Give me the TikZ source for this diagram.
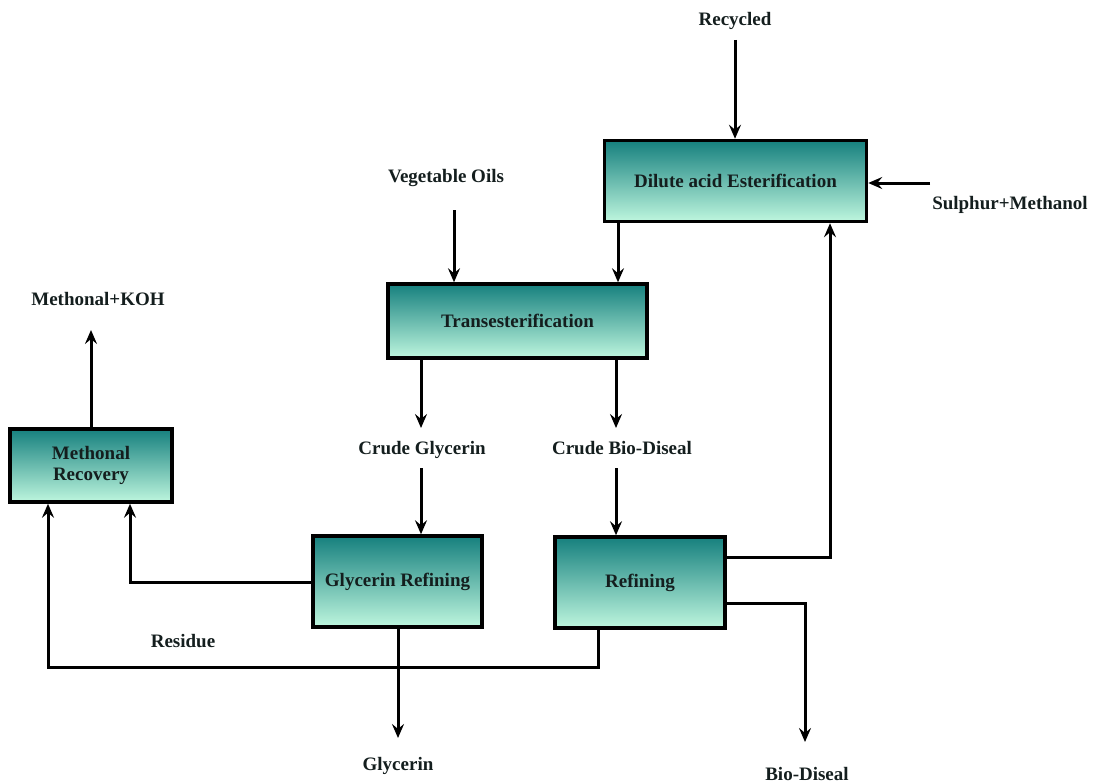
\documentclass[tikz,border=0pt]{standalone}
\usepackage{fontspec}
\setmainfont{Liberation Serif}
\usetikzlibrary{arrows.meta}
\definecolor{tealtop}{RGB}{22,128,126}
\definecolor{mintbot}{RGB}{190,246,222}
\definecolor{txt}{RGB}{20,30,30}
\begin{document}
\begin{tikzpicture}[x=1pt,y=-1pt,
  proc/.style={draw=black,line width=3.5pt,top color=tealtop,bottom color=mintbot,
    inner sep=0pt,font=\fontsize{19}{21}\selectfont\bfseries,text=txt,align=center},
  lbl/.style={font=\fontsize{19}{21}\selectfont\bfseries,text=txt,inner sep=0pt},
  flow/.style={line width=3pt,-{Stealth[length=14pt,width=12pt,inset=5pt]}},
  link/.style={line width=3pt}]
\useasboundingbox (0,0) rectangle (1096,784);
% boxes
\node[proc,minimum width=262pt,minimum height=81pt] (dae) at (735.5,181) {Dilute acid Esterification};
\node[proc,minimum width=259pt,minimum height=74pt] (tr) at (517.5,321) {Transesterification};
\node[proc,minimum width=162pt,minimum height=73pt] (mr) at (91,465.5) {Methonal\\[0pt]Recovery};
\node[proc,minimum width=169pt,minimum height=91pt] (gr) at (397.5,581.5) {Glycerin Refining};
\node[proc,minimum width=170pt,minimum height=91pt] (rf) at (640,582.5) {Refining};
% labels
\node[lbl] (rec) at (735,21) {Recycled};
\node[lbl] (sm) at (1010,205) {Sulphur+Methanol};
\node[lbl] (vo) at (446,178) {Vegetable Oils};
\node[lbl] (cg) at (422,450) {Crude Glycerin};
\node[lbl] (cb) at (622,448) {Crude Bio-Diseal};
\node[lbl] (mk) at (98,299) {Methonal+KOH};
\node[lbl] (res) at (183,641) {Residue};
\node[lbl] (gly) at (398,766) {Glycerin};
\node[lbl] (bd) at (807,774) {Bio-Diseal};
% coordinates
\coordinate (recS) at (735,40);
\coordinate (smS) at (930,183);
\coordinate (voS) at (454,210);
\coordinate (cgA) at (421,428);
\coordinate (cbA) at (616,428);
\coordinate (cgS) at (421,468);
\coordinate (cbS) at (616,468);
\coordinate (mkA) at (91,330);
\coordinate (glyA) at (398,738);
\coordinate (bdA) at (805,742);
% connectors
\draw[flow] (recS) -- (recS |- dae.north);
\draw[flow] (smS) -- (smS -| dae.east);
\draw[flow] (voS) -- (voS |- tr.north);
\draw[flow] (dae.south -| 618,0) -- (tr.north -| 618,0);
\draw[flow] (tr.south -| cgA) -- (cgA);
\draw[flow] (tr.south -| cbA) -- (cbA);
\draw[flow] (cgS) -- (cgS |- gr.north);
\draw[flow] (cbS) -- (cbS |- rf.north);
\draw[flow] (mr.north) -- (mkA);
\draw[flow] (rf.east |- 0,557) -| (dae.south -| 830,0);
\draw[flow] (rf.east |- 0,603) -| (bdA);
\draw[flow] (gr.south -| glyA) -- (glyA);
\draw[flow] (gr.west |- 0,582) -| (mr.south -| 130,0);
\draw[flow] (rf.south -| 598,0) |- (48,667) -- (mr.south -| 48,0);
\end{tikzpicture}
\end{document}
